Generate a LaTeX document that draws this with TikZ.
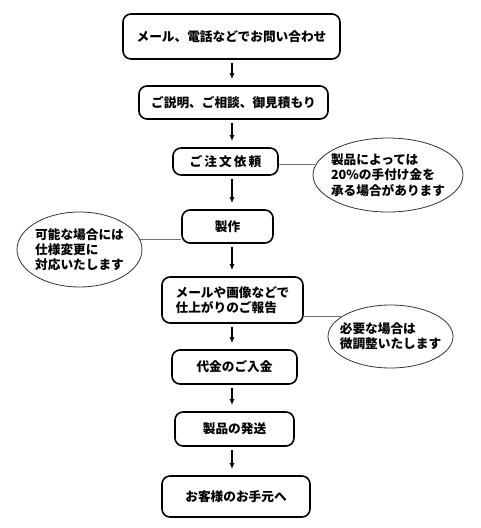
\documentclass[tikz,border=0pt]{standalone}
\usepackage{fontspec}
\setmainfont{Noto Sans CJK JP}
\usetikzlibrary{arrows.meta,shapes.geometric}

\begin{document}
\begin{tikzpicture}[x=0.75pt,y=-0.75pt,>=Latex,
  flowbox/.style={draw=black,line width=1.2pt,rounded corners=6pt,fill=white,align=left,inner sep=0pt,font=\bfseries\fontsize{9.5}{11.5}\selectfont},
  notebubble/.style={draw=black!80,line width=0.6pt,ellipse,align=left,inner xsep=-5pt,inner ysep=0pt,font=\bfseries\fontsize{9.5}{11.5}\selectfont},
  noteline/.style={draw=black!55,line width=0.9pt},
  flowarrow/.style={-{Latex[length=4.5pt,width=3.8pt]},line width=0.9pt,shorten <=2.5pt,shorten >=4.5pt}]
\useasboundingbox[fill=white] (0,0) rectangle (480,528);
\coordinate (axis) at (232,0);
% main steps
\node[flowbox,minimum width=162.75pt,minimum height=33.75pt] (fl_contact) at (231.5,36.5) {メール、電話などでお問い合わせ};
\node[flowbox,minimum width=141.75pt,minimum height=24.75pt] (fl_consult) at (233.5,102.5) {ご説明、ご相談、御見積もり};
\node[flowbox,minimum width=78.75pt,minimum height=20.25pt] (fl_order) at (225.5,161.5) {ご\,注\,文\,依\,頼};
\node[flowbox,minimum width=68.25pt,minimum height=24.75pt] (fl_make) at (227.5,226.5) {製作};
\node[flowbox,minimum width=105.75pt,minimum height=34.5pt] (fl_report) at (232.5,300) {メールや画像などで\\仕上がりのご報告};
\node[flowbox,minimum width=93.75pt,minimum height=25.5pt] (fl_pay) at (234.5,367) {代金のご入金};
\node[flowbox,minimum width=89.25pt,minimum height=25.5pt] (fl_ship) at (234.5,429) {製品の発送};
\node[flowbox,minimum width=111pt,minimum height=30.75pt] (fl_deliver) at (236,496.5) {お客様のお手元へ};
% side notes
\node[notebubble,minimum width=112.5pt,minimum height=55.5pt] (nt_deposit) at (388,175) {製品によっては\\20\%の手付け金を\\承る場合があります};
\node[notebubble,minimum width=93.75pt,minimum height=56.25pt] (nt_change) at (79.5,249.5) {可能な場合には\\仕様変更に\\対応いたします};
\node[notebubble,minimum width=93.75pt,minimum height=47.25pt] (nt_adjust) at (390.5,336.5) {必要な場合は\\微調整いたします};
\draw[noteline] (nt_deposit.172) -- (nt_deposit.172 -| fl_order.east);
\draw[noteline] (nt_change.9) -- (nt_change.9 -| fl_make.west);
\draw[noteline] (nt_adjust.158) -- (nt_adjust.158 -| fl_report.east);
% arrows
\foreach \a/\b in {fl_contact/fl_consult,fl_consult/fl_order,fl_order/fl_make,fl_make/fl_report,fl_report/fl_pay,fl_pay/fl_ship,fl_ship/fl_deliver}
  \draw[flowarrow] (\a.south -| axis) -- (\b.north -| axis);
\end{tikzpicture}
\end{document}
